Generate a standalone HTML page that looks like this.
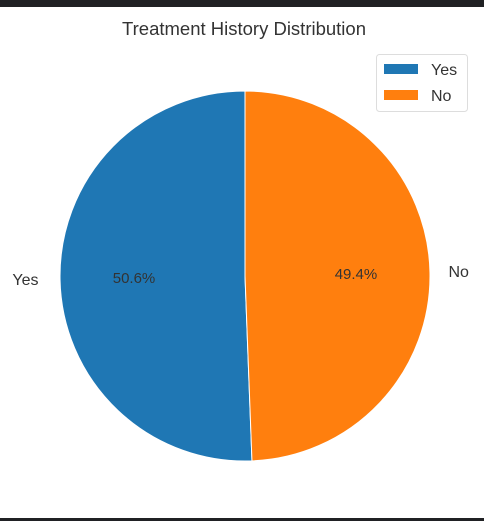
<!DOCTYPE html>
<html><head><meta charset="utf-8"><style>
html,body{margin:0;padding:0;background:#fff;}
body{width:484px;height:521px;overflow:hidden;position:relative;font-family:"Liberation Sans",sans-serif;}
</style></head><body>
<div style="position:absolute;left:0;top:0;width:484px;height:7px;background:#202124"></div>
<div style="position:absolute;left:0;top:518px;width:484px;height:3px;background:#202124"></div>
<svg id="chart" width="484" height="521" style="position:absolute;left:0;top:0">
<text x="244" y="35" text-anchor="middle" font-size="18.5" fill="#333">Treatment History Distribution</text>
<g id="slices"></g>
<g>
<rect x="376.5" y="54.5" width="91" height="57" rx="3" fill="#fff" stroke="#ddd"/>
<rect x="384" y="64" width="34" height="10" fill="#1f77b4"/>
<text x="431" y="75" font-size="16" fill="#333">Yes</text>
<rect x="384" y="90" width="34" height="10" fill="#ff7f0e"/>
<text x="431" y="101" font-size="16" fill="#333">No</text>
</g>
</svg>
<script>
const categories = ["Yes", "No"];
const values = [50.6, 49.4];
const colors = ["#1f77b4", "#ff7f0e"];
const cx = 245, cy = 276, r = 185;
const g = document.getElementById('slices');
const NS = "http://www.w3.org/2000/svg";
const total = values.reduce((a,b)=>a+b,0);
let start = 90;
function pt(deg, rad){ const a = deg*Math.PI/180; return [cx + rad*Math.cos(a), cy - rad*Math.sin(a)]; }
values.forEach((v,i)=>{
  const sweep = v/total*360;
  const end = start + sweep;
  const [x1,y1] = pt(start,r), [x2,y2] = pt(end,r);
  const p = document.createElementNS(NS,'path');
  p.setAttribute('d', `M${cx},${cy} L${x1},${y1} A${r},${r} 0 ${sweep>180?1:0} 0 ${x2},${y2} Z`);
  p.setAttribute('fill', colors[i]);
  p.setAttribute('stroke', '#fff');
  p.setAttribute('stroke-width', '1');
  
  
  g.appendChild(p);
  const mid = start + sweep/2;
  const [lx,ly] = pt(mid, r*1.1);
  const t = document.createElementNS(NS,'text');
  t.setAttribute('x', Math.cos(mid*Math.PI/180) < 0 ? lx - 3 : lx);
  t.setAttribute('y', ly+5);
  t.setAttribute('text-anchor', Math.cos(mid*Math.PI/180) < 0 ? 'end' : 'start');
  t.setAttribute('font-size', '16'); t.setAttribute('fill', '#333');
  t.textContent = categories[i];
  
  
  g.appendChild(t);
  const [px,py] = pt(mid, r*0.6);
  const pc = document.createElementNS(NS,'text');
  pc.setAttribute('x', px); pc.setAttribute('y', py+5);
  pc.setAttribute('text-anchor', 'middle');
  pc.setAttribute('font-size', '15'); pc.setAttribute('fill', '#333');
  pc.textContent = v.toFixed(1) + '%';
  
  
  g.appendChild(pc);
  start = end;
});
</script>
</body></html>
